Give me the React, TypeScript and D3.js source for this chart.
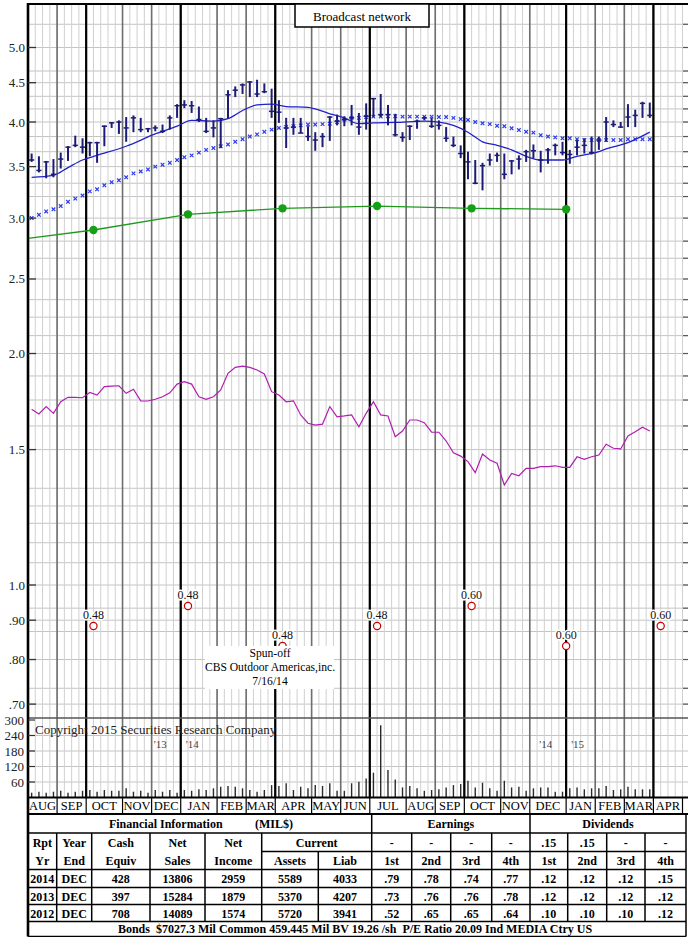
import React from "react";
import * as d3 from "d3";

const WIDTH = 688;
const HEIGHT = 937;
const FONT = "'Liberation Serif','Times New Roman',Times,serif";

const TITLE = "Broadcast network";

const MONTH_LABELS = ["AUG","SEP","OCT","NOV","DEC","JAN","FEB","MAR","APR","MAY","JUN","JUL","AUG","SEP","OCT","NOV","DEC","JAN","FEB","MAR","APR"];
const MONTH_START_WEEKS = [0,4,8,13,17,21,26,30,34,39,43,47,52,56,60,65,69,74,78,82,86];
const LAST_WEEK = 90;
const QUARTER_START_WEEKS = [8,21,34,47,60,74,86];

const PRICE_TICKS = [5.0,4.5,4.0,3.5,3.0,2.5,2.0,1.5,1.0,0.9,0.8,0.7];
const PRICE_TICK_LABELS = ["5.0","4.5","4.0","3.5","3.0","2.5","2.0","1.5","1.0",".90",".80",".70"];
const PRICE_GRID = [5.36,5.0,4.66,4.5,4.32,4.16,4.0,3.83,3.66,3.5,3.33,3.2,3.0,2.8,2.66,2.5,2.35,2.23,2.11,2.0,1.87,1.74,1.61,1.5,1.336,1.267,1.203,1.135,1.069,1.0,0.933,0.9,0.87,0.8,0.734,0.7];

const VOL_TICKS = [300,240,180,120,60];

// weekly price bars
const HIGH = [3.64,3.61,3.56,3.58,3.65,3.72,3.84,3.81,3.77,3.77,
  3.96,4.00,4.02,4.06,4.08,4.05,3.93,3.96,3.97,4.08,
  4.22,4.27,4.26,4.19,4.05,4.02,4.05,4.40,4.45,4.49,
  4.52,4.54,4.49,4.42,4.27,4.05,4.05,4.05,3.95,3.88,
  3.87,4.07,4.09,4.07,4.21,4.11,4.23,4.30,4.35,4.21,
  4.10,3.88,3.96,4.03,4.07,4.05,4.02,3.94,3.83,3.73,
  3.66,3.57,3.54,3.64,3.65,3.64,3.57,3.62,3.68,3.74,
  3.67,3.70,3.75,3.77,3.68,3.79,3.81,3.83,3.83,4.06,
  4.02,4.00,4.22,4.15,4.25,4.24];
const LOW = [3.55,3.44,3.38,3.39,3.48,3.56,3.71,3.64,3.61,3.54,
  3.72,3.93,3.86,3.77,3.88,3.88,3.88,3.89,3.87,3.91,
  4.05,4.17,4.11,4.00,3.87,3.82,3.70,4.04,4.31,4.35,
  4.31,4.31,4.36,4.05,3.99,3.70,3.85,3.87,3.78,3.67,
  3.71,3.78,3.96,3.95,3.96,3.85,3.91,4.06,4.06,3.96,
  3.83,3.77,3.79,3.92,4.02,3.93,3.91,3.77,3.71,3.59,
  3.37,3.32,3.26,3.51,3.55,3.37,3.42,3.47,3.55,3.59,
  3.44,3.53,3.62,3.62,3.53,3.62,3.64,3.63,3.68,3.77,
  3.94,3.93,3.94,3.94,4.05,4.05];
const CLOSE = [3.57,3.46,3.55,3.42,3.58,3.71,3.73,3.71,3.76,3.76,
  3.95,3.99,4.00,3.93,4.05,3.91,3.92,3.93,3.89,4.05,
  4.20,4.21,4.20,4.03,3.89,3.93,4.04,4.34,4.40,4.47,
  4.51,4.35,4.38,4.13,4.12,3.93,3.94,3.87,3.83,3.79,
  3.83,4.06,4.01,4.03,4.05,3.94,4.07,4.29,4.09,4.09,
  3.85,3.82,3.95,4.01,4.05,3.95,3.96,3.81,3.73,3.64,
  3.55,3.33,3.51,3.57,3.62,3.42,3.56,3.58,3.66,3.67,
  3.57,3.68,3.73,3.65,3.63,3.71,3.73,3.65,3.79,4.00,
  3.97,3.94,4.06,4.08,4.23,4.08];

// short moving average, read at selected weeks [week, value]
const MA_SHORT: [number, number][] = [[0,3.39],[3,3.41],[5,3.49],[7,3.57],[9,3.62],[13,3.72],[17,3.86],[20,3.95],[22,4.02],[25,4.01],[27,4.04],[29,4.14],[31,4.21],[33,4.22],[35,4.19],[38,4.18],[41,4.10],[43,4.05],[45,3.98],[47,3.99],[50,3.995],[54,4.01],[56,4.00],[58,3.96],[60,3.88],[62,3.77],[64,3.73],[66,3.68],[68,3.61],[70,3.57],[73,3.57],[75,3.61],[78,3.66],[79,3.69],[82,3.76],[85,3.88]];

// long moving average (weekly x markers)
const MA_LONG = [3.00,3.03,3.06,3.08,3.11,3.15,3.18,3.21,3.25,3.27,
  3.31,3.34,3.36,3.39,3.43,3.45,3.47,3.50,3.52,3.54,
  3.57,3.60,3.62,3.65,3.68,3.70,3.72,3.74,3.77,3.80,
  3.83,3.855,3.885,3.91,3.93,3.94,3.95,3.96,3.97,3.97,
  3.975,3.98,4.00,4.03,4.05,4.05,4.06,4.065,4.065,4.07,
  4.07,4.065,4.065,4.065,4.065,4.065,4.06,4.06,4.05,4.035,
  4.025,4.00,3.985,3.975,3.955,3.95,3.925,3.905,3.885,3.875,
  3.845,3.83,3.82,3.81,3.81,3.80,3.79,3.79,3.79,3.79,
  3.79,3.79,3.80,3.80,3.80,3.80];

// earnings line
const EARN_WEEKS = [0,9,22,35,48,61,74];
const EARN_VALUES = [2.824,2.895,3.034,3.089,3.110,3.089,3.080];

// relative strength
const RS = [1.692,1.669,1.706,1.672,1.731,1.754,1.754,1.752,1.780,1.766,
  1.811,1.814,1.816,1.775,1.797,1.736,1.735,1.744,1.757,1.778,
  1.825,1.838,1.825,1.757,1.744,1.757,1.793,1.885,1.919,1.926,
  1.919,1.904,1.881,1.784,1.766,1.731,1.736,1.664,1.623,1.614,
  1.619,1.706,1.655,1.659,1.664,1.606,1.672,1.731,1.664,1.659,
  1.559,1.586,1.639,1.639,1.626,1.580,1.580,1.539,1.486,1.471,
  1.447,1.400,1.480,1.454,1.440,1.349,1.397,1.387,1.418,1.418,
  1.425,1.425,1.429,1.422,1.422,1.468,1.457,1.468,1.476,1.524,
  1.506,1.503,1.562,1.582,1.604,1.586];

// weekly volume (hundred thousands)
const VOLUME = [18.6,22.5,18.6,22.5,26,18.6,22.5,26,29,22.5,
  29,26,26,35.5,22.5,26,18.6,29,22.5,29,
  18.6,29,26,31.6,29,35.5,42,44.5,42,35.5,
  29,22.5,29,48,44.5,55,29,42,35.5,48,
  44.5,55,26,26,55,61,74,96,280,106,
  70,39,44.5,35.5,26,29,31.6,39,48,52,
  65,39,57,35.5,26,65,39,42,26,35.5,
  39,39,22.5,22.5,35.5,39,31.6,35.5,35.5,44.5,
  29,31.6,42,31.6,31.6,31.6];

// dividends
const DIV_WEEKS = [9,22,35,48,61,74,87];
const DIV_LABELS = ["0.48","0.48","0.48","0.48","0.60","0.60","0.60"];

const NOTE_LINES = ["Spun-off","CBS Outdoor Americas,inc.","7/16/14"];
const COPYRIGHT = "Copyright 2015 Securities Research Company";
const YEAR_MARKS: [number, string, string][] = [[21,"'13","'14"],[74,"'14","'15"]];

// financial table
const FIN_YEARS = ["2014","2013","2012"];
const FIN_YEAR_END = ["DEC","DEC","DEC"];
const FIN_CASH = ["428","397","708"];
const FIN_SALES = ["13806","15284","14089"];
const FIN_INCOME = ["2959","1879","1574"];
const FIN_ASSETS = ["5589","5370","5720"];
const FIN_LIAB = ["4033","4207","3941"];
const EARN_Q = [[".79",".78",".74",".77"],[".73",".76",".76",".78"],[".52",".65",".65",".64"]];
const DIV_Q = [[".12",".12",".12",".15"],[".12",".12",".12",".12"],[".10",".10",".10",".12"]];
const EARN_CURRENT = ["-","-","-","-"];
const DIV_CURRENT = [".15",".15","-","-"];
const QUARTER_NAMES = ["1st","2nd","3rd","4th"];
const BONDS_LINE = "Bonds  $7027.3 Mil Common 459.445 Mil BV 19.26 /sh  P/E Ratio 20.09 Ind MEDIA Ctry US";

export default function App() {
  const left = 28;
  const right = 688;
  const top = 4;
  const priceBottom = 718;
  const volBottom = 797.5;
  const monthBottom = 814;

  const x = d3.scaleLinear().domain([0, LAST_WEEK]).range([left, 682.5]);
  const y = d3.scaleLog().domain([1, 5]).range([585, 47.5]);
  const yVol = d3.scaleLinear().domain([0, 300]).range([volBottom, 720]);
  const bx = (i: number) => x(i + 0.5);

  const weeks = d3.range(0, LAST_WEEK + 1);
  const maShortPath = d3.line<[number, number]>().x(d => bx(d[0])).y(d => y(d[1])).curve(d3.curveMonotoneX)(MA_SHORT) || "";
  const earnPath = d3.line<number>().x((_, i) => x(EARN_WEEKS[i])).y(d => y(d))(EARN_VALUES) || "";
  const rsPath = d3.line<number>().x((_, i) => bx(i)).y(d => y(d))(RS) || "";

  const monthBounds = [...MONTH_START_WEEKS, LAST_WEEK];
  const divLevels = [626, 606, 646];

  // table geometry
  const C = [28, 56.7, 91.7, 150, 205, 261.7, 318.3, 371.7, 411.7, 450.7, 491.7, 530, 567.7, 606.7, 645, 686];
  const cc = (k: number) => (C[k] + C[k + 1]) / 2;
  const tableLines: [number, number, number, number][] = [];
  [833, 869.5, 887.5, 904.5, 921.5, 936.5].forEach(yy => tableLines.push([28, yy, 686, yy]));
  tableLines.push([261.7, 851.5, 686, 851.5]);
  tableLines.push([686, 814, 686, 936.5]);
  [371.7, 530].forEach(xx => tableLines.push([xx, 814, xx, 921.5]));
  [56.7, 91.7, 150, 205, 261.7, 411.7, 450.7, 491.7, 567.7, 606.7, 645].forEach(xx => tableLines.push([xx, 833, xx, 921.5]));
  tableLines.push([318.3, 851.5, 318.3, 921.5]);

  const dataRows = FIN_YEARS.map((yr, r) => [yr, FIN_YEAR_END[r], FIN_CASH[r], FIN_SALES[r], FIN_INCOME[r], FIN_ASSETS[r], FIN_LIAB[r], ...EARN_Q[r], ...DIV_Q[r]]);
  const rowBase = [882.5, 900.5, 917.5];

  return (
    <svg width={WIDTH} height={HEIGHT} style={{ position: "absolute", left: 0, top: 0, background: "#fff" }} fontFamily={FONT}>
      <rect x={0} y={0} width={WIDTH} height={HEIGHT} fill="#fff" />
      {/* horizontal price grid */}
      {PRICE_GRID.map((v, k) => (
        <line key={"hg" + k} x1={left} x2={right} y1={y(v)} y2={y(v)} stroke="#c4c4c4" strokeWidth={1} />
      ))}
      {PRICE_GRID.map((v, k) => (
        <line key={"rt" + k} x1={683} x2={right} y1={y(v)} y2={y(v)} stroke="#555" strokeWidth={1.2} />
      ))}
      {/* volume grid */}
      {VOL_TICKS.slice(1).map(v => (
        <line key={"vg" + v} x1={left} x2={right} y1={yVol(v)} y2={yVol(v)} stroke="#c4c4c4" strokeWidth={1} />
      ))}
      {/* week lines */}
      {weeks.map(w => (
        <line key={"wk" + w} x1={x(w)} x2={x(w)} y1={top} y2={volBottom} stroke="#d0d0d0" strokeWidth={1} />
      ))}
      {/* month lines */}
      {MONTH_START_WEEKS.map(w => (
        <line key={"mo" + w} x1={x(w)} x2={x(w)} y1={top} y2={volBottom} stroke="#6e6e6e" strokeWidth={1.6} />
      ))}
      {QUARTER_START_WEEKS.map(w => (
        <line key={"q" + w} x1={x(w)} x2={x(w)} y1={top} y2={volBottom} stroke="#000" strokeWidth={2.2} />
      ))}
      {/* pane separator */}
      <line x1={left} x2={right} y1={priceBottom} y2={priceBottom} stroke="#555" strokeWidth={1.6} />

      {/* earnings line */}
      <path d={earnPath} fill="none" stroke="#1f9a1f" strokeWidth={1.3} />
      {EARN_WEEKS.slice(1).map((w, k) => (
        <circle key={"ed" + k} cx={x(w)} cy={y(EARN_VALUES[k + 1])} r={4.2} fill="#15a015" />
      ))}

      {/* long MA markers */}
      {MA_LONG.map((v, i) => {
        const cx = bx(i), cy = y(v);
        return (
          <g key={"ml" + i} stroke="#2a3cf0" strokeWidth={1.2}>
            <line x1={cx - 1.8} x2={cx + 1.8} y1={cy - 1.8} y2={cy + 1.8} />
            <line x1={cx - 1.8} x2={cx + 1.8} y1={cy + 1.8} y2={cy - 1.8} />
          </g>
        );
      })}
      {/* short MA */}
      <path d={maShortPath} fill="none" stroke="#2121c8" strokeWidth={1.3} />

      {/* price bars */}
      {HIGH.map((h, i) => {
        const cx = bx(i);
        return (
          <g key={"b" + i} stroke="#1c1c78">
            <line x1={cx} x2={cx} y1={y(h)} y2={y(LOW[i])} strokeWidth={2} />
            <line x1={cx - 2.6} x2={cx + 2.6} y1={y(CLOSE[i])} y2={y(CLOSE[i])} strokeWidth={1.5} />
          </g>
        );
      })}

      {/* relative strength */}
      <path d={rsPath} fill="none" stroke="#b01eb0" strokeWidth={1.2} />

      {/* volume bars */}
      {VOLUME.map((v, i) => (
        <line key={"v" + i} x1={bx(i)} x2={bx(i)} y1={yVol(0)} y2={yVol(v)} stroke="#2a2a2a" strokeWidth={1.4} />
      ))}

      {/* dividend markers */}
      {DIV_WEEKS.map((w, k) => {
        const cy = divLevels[k % 3];
        return (
          <g key={"dv" + k}>
            <circle cx={x(w)} cy={cy} r={3.6} fill="#fff" stroke="#c80000" strokeWidth={1.2} />
            <text x={x(w)} y={cy - 7.5} textAnchor="middle" fontSize={12} fill="#111"
              stroke="#fff" strokeWidth={3} strokeLinejoin="round" style={{ paintOrder: "stroke" }}>{DIV_LABELS[k]}</text>
          </g>
        );
      })}

      {/* spin-off note */}
      <rect x={205} y={646} width={129} height={43} fill="#fff" />
      {NOTE_LINES.map((t, k) => (
        <text key={"n" + k} x={270} y={656.5 + k * 14.3} textAnchor="middle" fontSize={11.6} fill="#000">{t}</text>
      ))}

      {/* copyright and year marks */}
      <text x={35} y={733.5} fontSize={13} fill="#222">{COPYRIGHT}</text>
      {YEAR_MARKS.map(([w, a, b], k) => (
        <g key={"ym" + k} fontSize={11} fill="#444">
          <text x={x(w) - 14} y={748} textAnchor="end">{a}</text>
          <text x={x(w) + 5} y={748}>{b}</text>
        </g>
      ))}

      {/* frame */}
      <line x1={left} x2={right} y1={top} y2={top} stroke="#000" strokeWidth={2} />
      <line x1={left} x2={left} y1={top - 1} y2={936.5} stroke="#000" strokeWidth={2.6} />

      {/* title box */}
      <rect x={295} y={top} width={134} height={23} fill="#fff" stroke="#000" strokeWidth={1.5} />
      <text x={362} y={20.5} textAnchor="middle" fontSize={13} fill="#000">{TITLE}</text>

      {/* price axis */}
      {PRICE_TICKS.map((v, k) => (
        <g key={"pt" + k}>
          <line x1={left} x2={36} y1={y(v)} y2={y(v)} stroke="#333" strokeWidth={1.3} />
          <text x={25} y={y(v) + 4.5} textAnchor="end" fontSize={13} fill="#222">{PRICE_TICK_LABELS[k]}</text>
        </g>
      ))}
      {/* volume axis */}
      {VOL_TICKS.map(v => (
        <g key={"vt" + v}>
          <line x1={left} x2={35} y1={yVol(v)} y2={yVol(v)} stroke="#333" strokeWidth={1.2} />
          <text x={24} y={yVol(v) + 4.5} textAnchor="end" fontSize={13} fill="#222">{v}</text>
        </g>
      ))}

      {/* month row */}
      <line x1={left} x2={right} y1={volBottom} y2={volBottom} stroke="#000" strokeWidth={2} />
      <line x1={left} x2={right} y1={monthBottom} y2={monthBottom} stroke="#000" strokeWidth={2} />
      {monthBounds.map(w => (
        <line key={"ms" + w} x1={x(w)} x2={x(w)} y1={volBottom} y2={monthBottom} stroke="#000" strokeWidth={1.2} />
      ))}
      {MONTH_LABELS.map((m, k) => (
        <text key={"mlab" + k} x={(x(monthBounds[k]) + x(monthBounds[k + 1])) / 2} y={810} textAnchor="middle" fontSize={12.5} fill="#000">{m}</text>
      ))}

      {/* table */}
      {tableLines.map((l, k) => (
        <line key={"tl" + k} x1={l[0]} y1={l[1]} x2={l[2]} y2={l[3]} stroke="#000" strokeWidth={1.5} />
      ))}
      <g fontSize={12} fontWeight="bold" fill="#000" textAnchor="middle">
        <text x={165.8} y={828}>Financial Information</text>
        <text x={274} y={828}>(MIL$)</text>
        <text x={(C[7] + C[11]) / 2} y={828}>Earnings</text>
        <text x={(C[11] + C[15]) / 2} y={828}>Dividends</text>
        {["Rpt", "Year", "Cash", "Net", "Net"].map((t, k) => (
          <text key={"h1" + k} x={cc(k)} y={846.5}>{t}</text>
        ))}
        <text x={(C[5] + C[7]) / 2} y={846.5}>Current</text>
        {EARN_CURRENT.map((t, k) => (
          <text key={"ec" + k} x={cc(7 + k)} y={846.5}>{t}</text>
        ))}
        {DIV_CURRENT.map((t, k) => (
          <text key={"dc" + k} x={cc(11 + k)} y={846.5}>{t}</text>
        ))}
        {["Yr", "End", "Equiv", "Sales", "Income", "Assets", "Liab", ...QUARTER_NAMES, ...QUARTER_NAMES].map((t, k) => (
          <text key={"h2" + k} x={cc(k)} y={864.5}>{t}</text>
        ))}
        {dataRows.map((row, r) => row.map((t, k) => (
          <text key={"d" + r + "_" + k} x={cc(k)} y={rowBase[r]}>{t}</text>
        )))}
        <text x={355} y={933} style={{ whiteSpace: "pre" }}>{BONDS_LINE}</text>
      </g>
    </svg>
  );
}
